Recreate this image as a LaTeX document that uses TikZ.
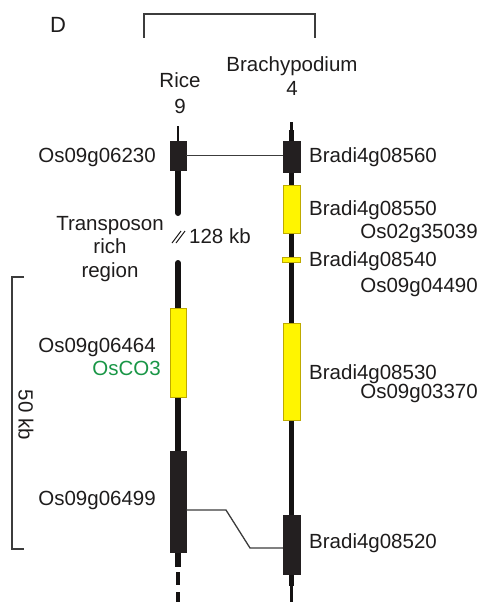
\documentclass[tikz,border=0pt]{standalone}
\usepackage{fontspec}
\setmainfont{Liberation Sans}
\definecolor{ink}{RGB}{30,28,28}
\definecolor{chrom}{RGB}{20,18,18}
\definecolor{boxk}{RGB}{35,31,32}
\definecolor{genY}{RGB}{255,245,0}
\definecolor{genYb}{RGB}{190,170,0}
\definecolor{lnk}{RGB}{60,60,60}
\definecolor{oscol}{RGB}{25,150,70}
\tikzset{
  lbl/.style={font=\fontsize{20.5}{24}\selectfont, text=ink, inner sep=0pt},
  blackgene/.style={draw=boxk, fill=boxk, line width=0.5pt, inner sep=0pt, minimum width=16pt},
  yellowgene/.style={draw=genYb, fill=genY, line width=0.8pt, inner sep=0pt, minimum width=16pt},
  thickchr/.style={draw=chrom, line width=6pt},
  medchr/.style={draw=chrom, line width=4.5pt},
  thinchr/.style={draw=chrom, line width=2.2pt},
  link/.style={draw=lnk, line width=1.3pt},
  frame/.style={draw=lnk, line width=1.3pt}
}
\begin{document}
\begin{tikzpicture}[x=1pt,y=-1pt]
\useasboundingbox (0,0) rectangle (482,602);
% ---- title & brackets
\node[lbl, font=\fontsize{22}{24}\selectfont, anchor=base] (D) at (58,33) {D};
\draw[frame] (144,38) -- (144,14) -- (315,14) -- (315,38);
\node[lbl, anchor=base] (brachy) at (292,71) {Brachypodium};
\node[lbl, anchor=base] (brachy4) at (292,95) {4};
\node[lbl, anchor=base] (rice) at (180,88) {Rice};
\node[lbl, anchor=base] (rice9) at (180,113) {9};
% ---- rice chromosome
\draw[thinchr] (178,126) -- (178,141);
\draw[thickchr, line cap=round] (178,165) -- (178,213);
\draw[thickchr, line cap=round] (178,263) -- (178,310);
\draw[thickchr] (178,395) -- (178,453);
\draw[thickchr] (178,550) -- (178,567);
\draw[draw=chrom, line width=4.5pt] (178,572) -- (178,585);
\draw[draw=chrom, line width=4.5pt] (178,592) -- (178,602);
\node[blackgene, minimum height=29pt] (r1) at (178,155.5) {};
\node[yellowgene, minimum height=89pt] (r2) at (178,352.5) {};
\node[blackgene, minimum height=101pt] (r3) at (178,501.5) {};
% ---- brachypodium chromosome
\draw[thinchr] (291.5,122) -- (291.5,132);
\draw[medchr] (291.5,130) -- (291.5,142);
\draw[draw=chrom, line width=5pt] (291.5,170) -- (291.5,576);
\draw[medchr] (291.5,574) -- (291.5,586);
\draw[thinchr] (291.5,585) -- (291.5,602);
\node[blackgene, minimum width=17pt, minimum height=31pt] (b1) at (291.5,156.5) {};
\node[yellowgene, minimum width=17pt, minimum height=48pt] (b2) at (291.5,209) {};
\node[yellowgene, minimum width=18pt, minimum height=5pt] (b3) at (291.5,259.5) {};
\node[yellowgene, minimum width=17pt, minimum height=97pt] (b4) at (291.5,371.5) {};
\node[blackgene, minimum width=17pt, minimum height=59pt] (b5) at (291.5,544.5) {};
% ---- connectors
\draw[link] (r1.east) -- (r1.east -| b1.west);
\coordinate (c1) at (226,510);
\coordinate (c2) at (250,548);
\draw[link] (r3.east |- c1) -- (c1) -- (c2) -- (c2 -| b5.west);
% ---- gap mark
\draw[draw=ink, line width=1pt] (172,243) -- (181,231);
\draw[draw=ink, line width=1pt] (176,243) -- (185,231);
\node[lbl, anchor=base west] (gap) at (189,243) {128 kb};
\node[lbl, anchor=base] (tr1) at (110,230) {Transposon};
\node[lbl, anchor=base] (tr2) at (110,253.5) {rich};
\node[lbl, anchor=base] (tr3) at (110,277) {region};
% ---- gene labels
\node[lbl, anchor=base east] (l1) at (156,162.5) {Os09g06230};
\node[lbl, anchor=base west] (l2) at (309,162) {Bradi4g08560};
\node[lbl, anchor=base west] (l3) at (309,215) {Bradi4g08550};
\node[lbl, anchor=base east] (l4) at (478,238) {Os02g35039};
\node[lbl, anchor=base west] (l5) at (309,266) {Bradi4g08540};
\node[lbl, anchor=base east] (l6) at (478,292) {Os09g04490};
\node[lbl, anchor=base east] (l7) at (156,352) {Os09g06464};
\node[lbl, anchor=base east, text=oscol] (l8) at (161,375) {OsCO3};
\node[lbl, anchor=base west] (l9) at (309,379) {Bradi4g08530};
\node[lbl, anchor=base east] (l10) at (478,398) {Os09g03370};
\node[lbl, anchor=base east] (l11) at (156,505) {Os09g06499};
\node[lbl, anchor=base west] (l12) at (309,548) {Bradi4g08520};
% ---- scale bar
\draw[frame] (24,277) -- (12,277) -- (12,549) -- (24,549);
\node[lbl, rotate=-90] (scale) at (26,415) {50 kb};
\end{tikzpicture}
\end{document}
